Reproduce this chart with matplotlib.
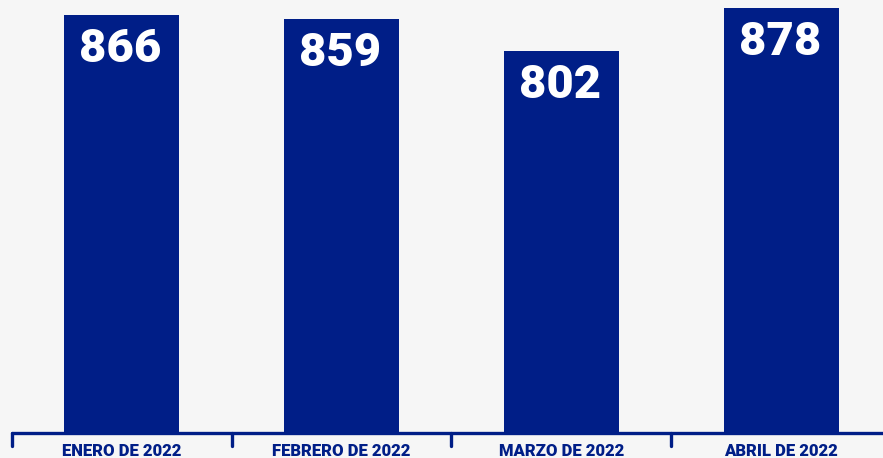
import matplotlib.pyplot as plt

# datos
meses = ['ENERO DE 2022', 'FEBRERO DE 2022', 'MARZO DE 2022', 'ABRIL DE 2022']
valores = [866, 859, 802, 878]

navy = '#001e87'
fondo = '#f6f6f6'

fig = plt.figure(figsize=(8.83, 4.58), dpi=100, facecolor=fondo)
ax = fig.add_axes([0, 25 / 458, 1, 433 / 458])
ax.set_facecolor(fondo)

x = list(range(len(meses)))
ax.bar(x, valores, width=0.523, color=navy, zorder=2)

ax.set_xlim(-0.5546, 3.464)
ax.set_ylim(125.6, 892.4)

# valores dentro de las barras
for xi, v in zip(x, valores):
    ax.annotate(str(v), (xi, v), xytext=(-1, -34), textcoords='offset points',
                ha='center', va='baseline', color='white', fontsize=34,
                fontweight='heavy', family='Roboto')

for s in ax.spines.values():
    s.set_visible(False)
ax.set_yticks([])
ax.set_xticks(x)
ax.set_xticklabels(meses, fontsize=12, fontweight='heavy', color=navy, family='Roboto')
ax.tick_params(axis='x', length=0, pad=7)

# linea base y marcas
tr = ax.get_xaxis_transform()
ax.plot([-0.5, 3.6], [0, 0], transform=tr, color=navy, lw=2.4,
        solid_capstyle='round', clip_on=False, zorder=3)
for b in [-0.5, 0.5, 1.5, 2.5]:
    ax.plot([b, b], [0, -13 / 433], transform=tr, color=navy, lw=2.4,
            solid_capstyle='round', clip_on=False, zorder=3)

fig.savefig('out.png', dpi=100, facecolor=fondo)
